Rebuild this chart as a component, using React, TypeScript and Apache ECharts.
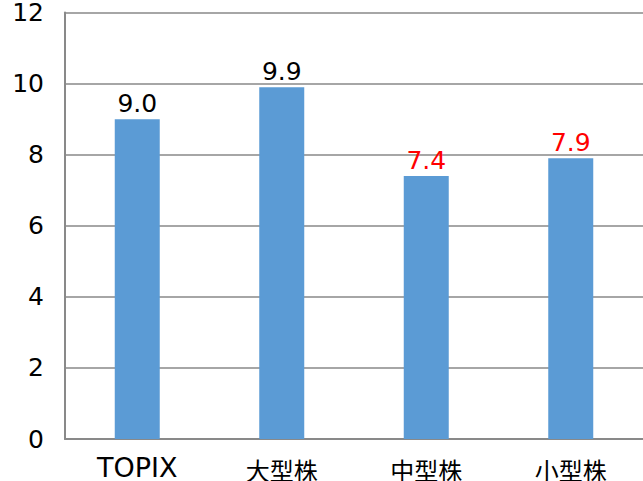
import React, { useEffect, useRef } from "react";
import * as echarts from "echarts";

const categories = ["TOPIX", "大型株", "中型株", "小型株"];
const values = [9.0, 9.9, 7.4, 7.9];
const yTicks = { min: 0, max: 12, interval: 2 };
const labelColors = ["#000000", "#000000", "#ff0000", "#ff0000"];

const FONT = "'DejaVu Sans', 'Noto Sans CJK JP', sans-serif";
const CJK = "'Noto Sans CJK JP', sans-serif";

export default function App() {
  const ref = useRef<HTMLDivElement>(null);
  useEffect(() => {
    document.body.style.margin = "0";
    const chart = echarts.init(ref.current!, null, { renderer: "svg" });
    chart.setOption({
      animation: false,
      backgroundColor: "#ffffff",
      grid: { left: 65, top: 12, width: 586, bottom: 41, containLabel: false },
      xAxis: {
        type: "category",
        data: categories,
        axisLine: { lineStyle: { color: "#898989", width: 2 } },
        axisTick: { show: false },
        axisLabel: {
          color: "#000",
          margin: 14,
          formatter: (v: string) =>
            /^[\x00-\x7f]+$/.test(v) ? `{lat|${v}}` : `{cjk|${v}}`,
          rich: {
            lat: { fontFamily: FONT, fontSize: 27, color: "#000", lineHeight: 28 },
            cjk: { fontFamily: CJK, fontSize: 24, color: "#000", lineHeight: 28, padding: [4, 0, 0, 0] },
          },
        },
      },
      yAxis: {
        type: "value",
        min: yTicks.min,
        max: yTicks.max,
        interval: yTicks.interval,
        axisLine: { show: true, lineStyle: { color: "#898989", width: 2 } },
        axisTick: { show: false },
        splitLine: { lineStyle: { color: "#898989", width: 1.5 } },
        axisLabel: { color: "#000", fontSize: 25, fontFamily: FONT, margin: 21 },
      },
      series: [
        {
          type: "bar",
          barWidth: 45,
          itemStyle: { color: "#5B9BD5" },
          data: values.map((v, i) => ({
            value: v,
            label: { color: labelColors[i] },
          })),
          label: {
            show: true,
            position: "top",
            distance: 3,
            fontSize: 25,
            fontFamily: FONT,
            formatter: (p: any) => Number(p.value).toFixed(1),
          },
        },
      ],
    });
    return () => chart.dispose();
  }, []);
  return <div ref={ref} style={{ width: 643, height: 481 }} />;
}
